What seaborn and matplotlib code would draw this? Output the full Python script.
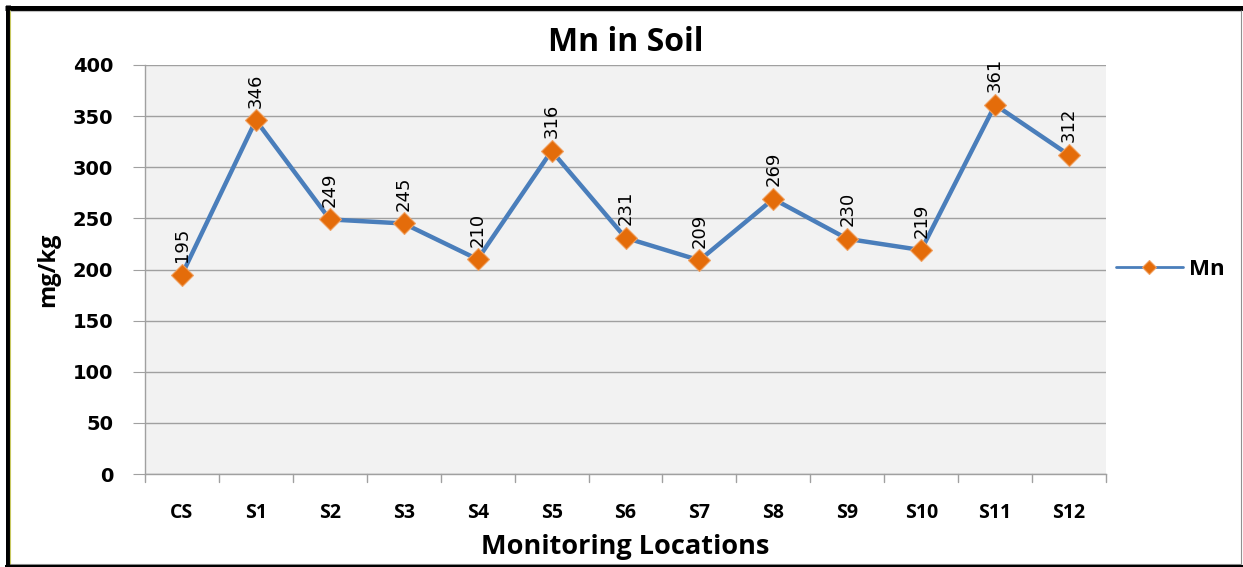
import pandas as pd
import numpy as np
import matplotlib.pyplot as plt
from matplotlib.lines import Line2D
import seaborn as sns

# Data
locations = ["CS", "S1", "S2", "S3", "S4", "S5", "S6", "S7", "S8", "S9", "S10", "S11", "S12"]
mn_values = [195, 346, 249, 245, 210, 316, 231, 209, 269, 230, 219, 361, 312]
y_ticks = [0, 50, 100, 150, 200, 250, 300, 350, 400]

df = pd.DataFrame({"Location": locations, "Mn": mn_values})

sns.set_style("white")
plt.rcParams['font.family'] = ['Open Sans', 'DejaVu Sans']
plt.rcParams['text.color'] = 'black'
plt.rcParams['axes.labelcolor'] = 'black'
plt.rcParams['xtick.color'] = 'black'
plt.rcParams['ytick.color'] = 'black'

W, H = 1243, 567
fig = plt.figure(figsize=(W / 100, H / 100), dpi=100)
ax = fig.add_axes([145 / W, 1 - 474 / H, (1106 - 145) / W, (474 - 65) / H])
ax.set_facecolor("#f2f2f2")

sns.lineplot(data=df, x="Location", y="Mn", ax=ax, color="#4a7ebb", linewidth=3.2,
             marker="D", markersize=11, markerfacecolor="#e46c0a", markeredgecolor="#f0a060",
             markeredgewidth=0.8, label="Mn", sort=False)

# Value labels
for i, v in enumerate(mn_values):
    ax.annotate(str(v), (i, v), xytext=(0, 9), textcoords="offset points",
                rotation=90, ha="center", va="bottom", fontsize=13, color="black",
                family=["Liberation Sans Narrow", "DejaVu Sans Condensed", "DejaVu Sans"])

ax.set_ylim(0, 400)
ax.set_xlim(-0.5, len(locations) - 0.5)
ax.set_yticks(y_ticks)
ax.set_yticklabels([str(t) for t in y_ticks], fontsize=14, fontweight="bold",
                   family=["DejaVu Sans"])
ax.set_xticks(range(len(locations)))
ax.set_xticklabels(locations, fontsize=14, fontweight="bold")
ax.tick_params(axis="x", length=0, pad=21)
ax.tick_params(axis="y", length=9, color="#a0a0a0", pad=14, direction="out", left=True)

# tick marks between categories
for b in np.arange(-0.5, len(locations), 1.0):
    ax.plot([b, b], [0, -0.02], transform=ax.get_xaxis_transform(), color="#a0a0a0",
            linewidth=1, clip_on=False)

ax.grid(axis="y", color="#a0a0a0", linewidth=1)
ax.set_axisbelow(True)
for s in ["top", "right"]:
    ax.spines[s].set_visible(False)
for s in ["left", "bottom"]:
    ax.spines[s].set_color("#a0a0a0")
    ax.spines[s].set_linewidth(1)

ax.set_title("Mn in Soil", fontsize=23, fontweight="bold", pad=10)
ax.set_xlabel("Monitoring Locations", fontsize=19.5, fontweight="bold", labelpad=8)
ax.set_ylabel("mg/kg", fontsize=17, fontweight="bold", labelpad=9)

leg = ax.legend(loc="center left", bbox_to_anchor=(1 + 10 / 961, 0.5), frameon=False,
                borderaxespad=0, borderpad=0,
                prop={"size": 16, "weight": "bold"}, handlelength=3.0, handletextpad=0.3)
for h in leg.get_lines():
    h.set_linewidth(2)
    h.set_markersize(7)

# frame around the figure
def px_line(x0, y0, x1, y1, color, lw):
    fig.add_artist(Line2D([x0 / W, x1 / W], [1 - y0 / H, 1 - y1 / H],
                          transform=fig.transFigure, color=color, linewidth=lw,
                          solid_capstyle="butt"))

px_line(5, 7.5, 1243, 7.5, "black", 3.6)
px_line(7.5, 5, 7.5, 567, "black", 3.6)
px_line(10.5, 10, 10.5, 564, "#c8c860", 0.8)
px_line(10, 10.5, 1241, 10.5, "#c0c0c0", 0.8)
px_line(1241, 10, 1241, 564, "#909090", 0.8)
px_line(10, 564, 1241, 564, "#909090", 0.8)
px_line(5, 566, 1243, 566, "black", 1.5)

fig.savefig("out.png", dpi=100)
